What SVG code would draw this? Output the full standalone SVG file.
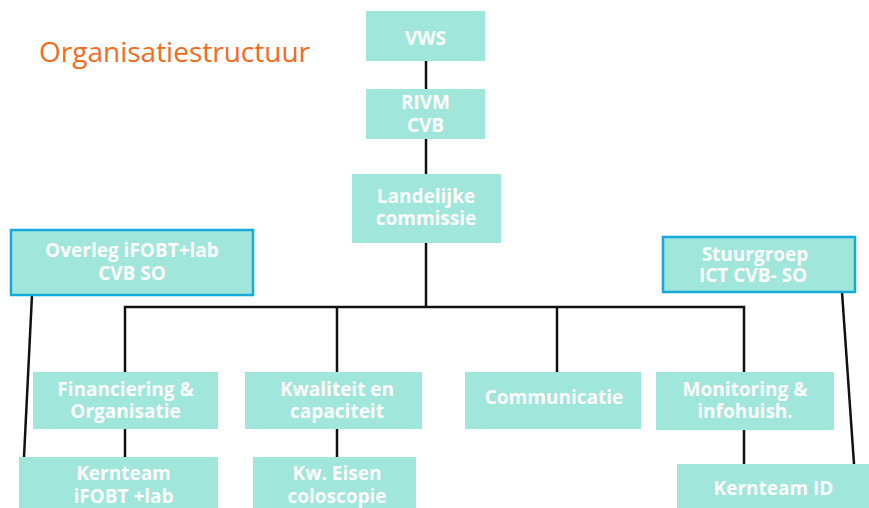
<svg xmlns="http://www.w3.org/2000/svg" width="869" height="508" viewBox="0 0 869 508">
<style>
.box{fill:#A0E6DA;}
.blue{fill:#A0E6DA;stroke:#15A9DC;stroke-width:2.5;}
.t{font-family:"Open Sans","Noto Sans",sans-serif;font-weight:bold;font-size:19px;fill:#FFFFFF;text-anchor:middle;}
.ln{stroke:#111111;stroke-width:2.5;fill:none;}
</style>
<rect width="869" height="508" fill="#FFFFFF"/>
<text x="39" y="62" font-family="'Open Sans','Noto Sans',sans-serif" font-size="28" fill="#F26B21">Organisatiestructuur</text>
<g id="connectors">
<line class="ln" x1="426" y1="61" x2="426" y2="89"/>
<line class="ln" x1="426" y1="139" x2="426" y2="174"/>
<line class="ln" x1="426" y1="243" x2="426" y2="307"/>
<polyline class="ln" points="125,372 125,307 744,307 744,372"/>
<line class="ln" x1="337" y1="307" x2="337" y2="372"/>
<line class="ln" x1="557" y1="307" x2="557" y2="372"/>
<line class="ln" x1="125" y1="429" x2="125" y2="457"/>
<line class="ln" x1="337" y1="429" x2="337" y2="457"/>
<line class="ln" x1="744" y1="430" x2="744" y2="464"/>
<line class="ln" x1="32" y1="295" x2="24" y2="457"/>
<line class="ln" x1="842" y1="292" x2="854" y2="464"/>
</g>
<g id="vws"><rect class="box" x="366" y="11" width="119" height="50"/><text class="t" x="425.5" y="45">VWS</text></g>
<g id="rivm"><rect class="box" x="366" y="89" width="119" height="50"/><text class="t" x="425.5" y="109">RIVM</text><text class="t" x="425.5" y="132">CVB</text></g>
<g id="landelijke"><rect class="box" x="352" y="174" width="149" height="69"/><text class="t" x="426" y="203">Landelijke</text><text class="t" x="426" y="225">commissie</text></g>
<g id="overleg"><rect class="blue" x="11" y="230" width="242" height="65"/><text class="t" x="132" y="257">Overleg iFOBT+lab</text><text class="t" x="132" y="280">CVB SO</text></g>
<g id="stuurgroep"><rect class="blue" x="663" y="237" width="192" height="55"/><text class="t" x="755" y="261">Stuurgroep</text><text class="t" x="753" y="282">ICT CVB- SO</text></g>
<g id="financiering"><rect class="box" x="33" y="372" width="185" height="57"/><text class="t" x="125.5" y="396">Financiering &amp;</text><text class="t" x="125.5" y="418">Organisatie</text></g>
<g id="kwaliteit"><rect class="box" x="245" y="372" width="177" height="57"/><text class="t" x="337" y="396">Kwaliteit en</text><text class="t" x="337" y="418">capaciteit</text></g>
<g id="communicatie"><rect class="box" x="465" y="372" width="176" height="57"/><text class="t" x="554" y="404">Communicatie</text></g>
<g id="monitoring"><rect class="box" x="656" y="372" width="178" height="58"/><text class="t" x="745" y="396">Monitoring &amp;</text><text class="t" x="745" y="418">infohuish.</text></g>
<g id="kernteam-ifobt"><rect class="box" x="19" y="457" width="199" height="51"/><text class="t" x="123.5" y="480">Kernteam</text><text class="t" x="123.5" y="503">iFOBT +lab</text></g>
<g id="kw-eisen"><rect class="box" x="253" y="457" width="163" height="51"/><text class="t" x="337" y="480">Kw. Eisen</text><text class="t" x="337" y="503">coloscopie</text></g>
<g id="kernteam-id"><rect class="box" x="677" y="464" width="192" height="44"/><text class="t" x="773.5" y="495">Kernteam ID</text></g>
</svg>
